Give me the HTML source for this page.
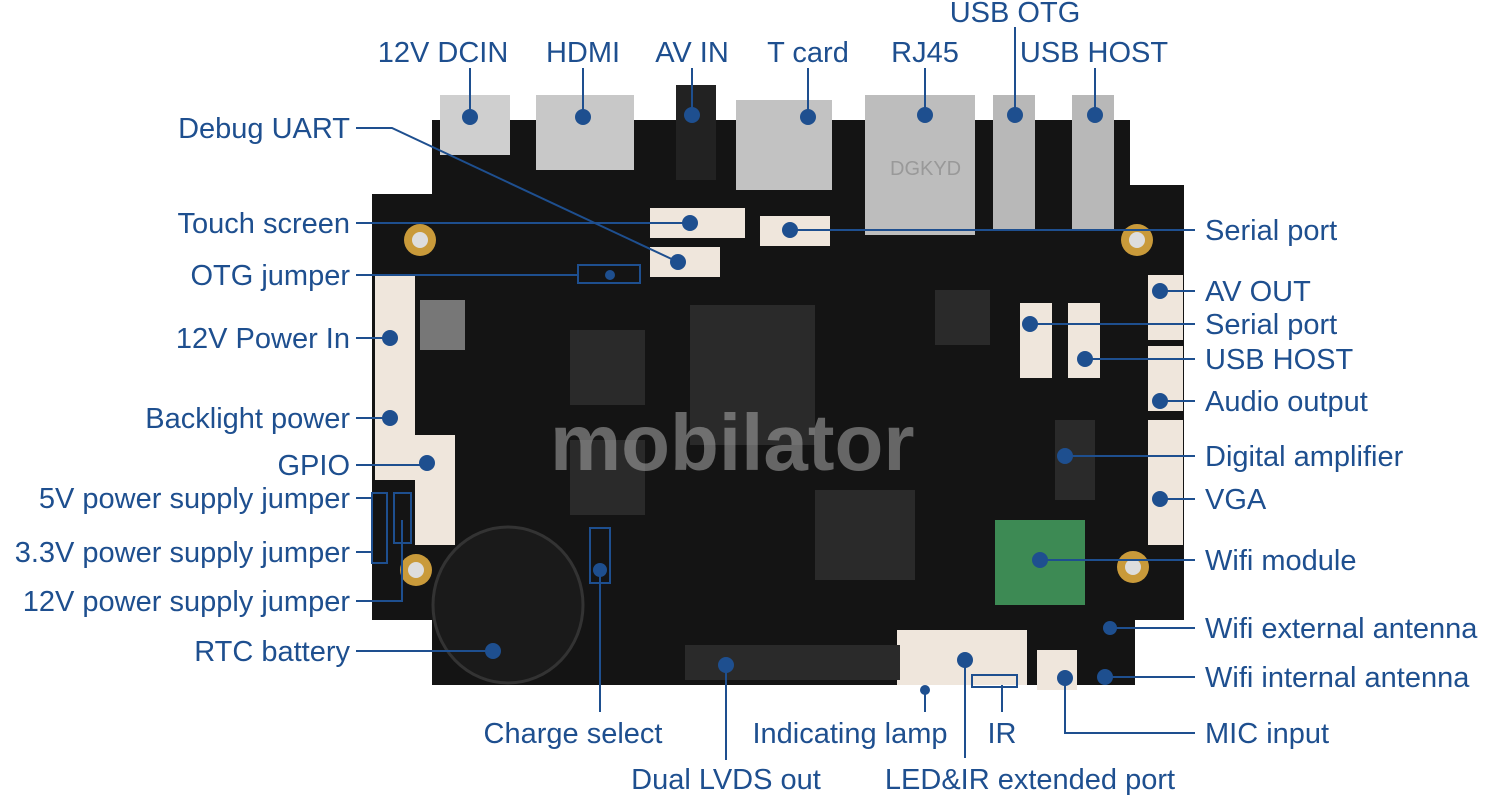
<!DOCTYPE html>
<html><head><meta charset="utf-8"><style>
html,body{margin:0;padding:0;background:#fff;}
svg{display:block;}
text{font-family:"Liberation Sans",sans-serif;font-size:29px;fill:#1e4f8f;}
</style></head><body>
<svg width="1500" height="796" viewBox="0 0 1500 796">
<!-- board -->
<path d="M432 120 H1130 V185 H1184 V620 H1135 V685 H432 V620 H372 V194 H432 Z" fill="#141414"/>
<circle cx="420" cy="240" r="16" fill="#c99a3a"/><circle cx="420" cy="240" r="8" fill="#ddd"/>
<circle cx="1137" cy="240" r="16" fill="#c99a3a"/><circle cx="1137" cy="240" r="8" fill="#ddd"/>
<circle cx="416" cy="570" r="16" fill="#c99a3a"/><circle cx="416" cy="570" r="8" fill="#ddd"/>
<circle cx="1133" cy="567" r="16" fill="#c99a3a"/><circle cx="1133" cy="567" r="8" fill="#ddd"/>
<!-- top connectors -->
<rect x="440" y="95" width="70" height="60" fill="#cfcfcf"/>
<rect x="536" y="95" width="98" height="75" fill="#c8c8c8"/>
<rect x="676" y="85" width="40" height="95" fill="#222"/>
<rect x="736" y="100" width="96" height="90" fill="#c2c2c2"/>
<rect x="865" y="95" width="110" height="140" fill="#bdbdbd"/>
<text x="890" y="175" style="font-size:20px;fill:#999">DGKYD</text>
<rect x="993" y="95" width="42" height="135" fill="#b8b8b8"/>
<rect x="1072" y="95" width="42" height="135" fill="#b8b8b8"/>
<!-- white connectors -->
<g fill="#efe6dc">
<rect x="650" y="208" width="95" height="30"/><rect x="650" y="247" width="70" height="30"/>
<rect x="760" y="216" width="70" height="30"/>
<rect x="375" y="275" width="40" height="130"/><rect x="375" y="395" width="40" height="85"/>
<rect x="415" y="435" width="40" height="110"/>
<rect x="1148" y="275" width="35" height="65"/><rect x="1148" y="346" width="35" height="65"/>
<rect x="1148" y="420" width="35" height="125"/>
<rect x="1020" y="303" width="32" height="75"/><rect x="1068" y="303" width="32" height="75"/>
<rect x="897" y="630" width="130" height="55"/><rect x="1037" y="650" width="40" height="40"/>
</g>
<!-- chips -->
<g fill="#2a2a2a">
<rect x="570" y="330" width="75" height="75"/><rect x="570" y="440" width="75" height="75"/>
<rect x="690" y="305" width="125" height="140"/><rect x="815" y="490" width="100" height="90"/>
<rect x="935" y="290" width="55" height="55"/><rect x="1055" y="420" width="40" height="80"/>
<rect x="685" y="645" width="215" height="35"/>
</g>
<rect x="995" y="520" width="90" height="85" fill="#3d8a54"/>
<ellipse cx="508" cy="605" rx="75" ry="78" fill="#1a1a1a" stroke="#333" stroke-width="3"/>
<rect x="420" y="300" width="45" height="50" fill="#777"/>
<text x="550" y="470" style="font-size:80px;font-weight:bold;fill:#aaa;fill-opacity:0.55">mobilator</text>
<!-- lines -->
<g stroke="#1e4f8f" stroke-width="2" fill="none">
<path d="M470 68V117M583 68V117M692 68V115M808 68V117M925 68V115M1015 27V115M1095 68V115"/>
<path d="M356 128H392L678 262"/>
<path d="M356 223H690"/>
<path d="M356 275H578"/><rect x="578" y="265" width="62" height="18"/>
<path d="M356 338H390M356 418H390M356 465H427"/>
<path d="M356 498H372M356 552H372M356 601H402V520"/>
<rect x="372" y="493" width="15" height="70"/><rect x="394" y="493" width="17" height="50"/>
<path d="M356 651H493"/>
<path d="M790 230H1195M1160 291H1195M1030 324H1195M1085 359H1195M1160 401H1195M1065 456H1195M1160 499H1195M1040 560H1195M1110 628H1195M1105 677H1195"/>
<path d="M1065 678V733H1195"/>
<rect x="590" y="528" width="20" height="55"/>
<path d="M600 570V712M726 665V760M925 690V712M965 660V758M1002 685V712"/>
<rect x="972" y="675" width="45" height="12"/>
</g>
<g fill="#1e4f8f">
<circle cx="470" cy="117" r="8"/><circle cx="583" cy="117" r="8"/><circle cx="692" cy="115" r="8"/><circle cx="808" cy="117" r="8"/><circle cx="925" cy="115" r="8"/><circle cx="1015" cy="115" r="8"/><circle cx="1095" cy="115" r="8"/>
<circle cx="678" cy="262" r="8"/><circle cx="690" cy="223" r="8"/><circle cx="610" cy="275" r="5"/>
<circle cx="390" cy="338" r="8"/><circle cx="390" cy="418" r="8"/><circle cx="427" cy="463" r="8"/><circle cx="493" cy="651" r="8"/>
<circle cx="790" cy="230" r="8"/><circle cx="1160" cy="291" r="8"/><circle cx="1030" cy="324" r="8"/><circle cx="1085" cy="359" r="8"/><circle cx="1160" cy="401" r="8"/><circle cx="1065" cy="456" r="8"/><circle cx="1160" cy="499" r="8"/><circle cx="1040" cy="560" r="8"/><circle cx="1110" cy="628" r="7"/><circle cx="1105" cy="677" r="8"/><circle cx="1065" cy="678" r="8"/>
<circle cx="600" cy="570" r="7"/><circle cx="726" cy="665" r="8"/><circle cx="925" cy="690" r="5"/><circle cx="965" cy="660" r="8"/>
</g>
<!-- labels -->
<g text-anchor="middle">
<text x="443" y="62">12V DCIN</text><text x="583" y="62">HDMI</text><text x="692" y="62">AV IN</text>
<text x="808" y="62">T card</text><text x="925" y="62">RJ45</text><text x="1015" y="22">USB OTG</text><text x="1094" y="62">USB HOST</text>
<text x="573" y="743">Charge select</text><text x="726" y="789">Dual LVDS out</text><text x="850" y="743">Indicating lamp</text>
<text x="1002" y="743">IR</text><text x="1030" y="789">LED&amp;IR extended port</text>
</g>
<g text-anchor="end">
<text x="350" y="138">Debug UART</text><text x="350" y="233">Touch screen</text><text x="350" y="285">OTG jumper</text>
<text x="350" y="348">12V Power In</text><text x="350" y="428">Backlight power</text><text x="350" y="475">GPIO</text>
<text x="350" y="508">5V power supply jumper</text><text x="350" y="562">3.3V power supply jumper</text>
<text x="350" y="611">12V power supply jumper</text><text x="350" y="661">RTC battery</text>
</g>
<g>
<text x="1205" y="240">Serial port</text><text x="1205" y="301">AV OUT</text><text x="1205" y="334">Serial port</text>
<text x="1205" y="369">USB HOST</text><text x="1205" y="411">Audio output</text><text x="1205" y="466">Digital amplifier</text>
<text x="1205" y="509">VGA</text><text x="1205" y="570">Wifi module</text><text x="1205" y="638">Wifi external antenna</text>
<text x="1205" y="687">Wifi internal antenna</text><text x="1205" y="743">MIC input</text>
</g>
</svg>
</body></html>
